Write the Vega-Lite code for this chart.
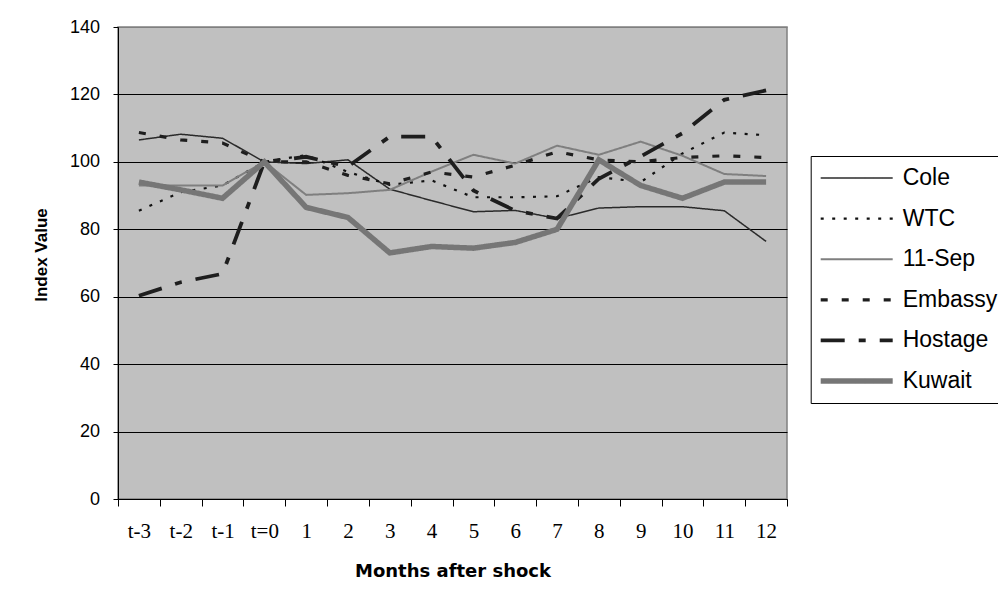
{
  "$schema": "https://vega.github.io/schema/vega-lite/v6.json",
  "width": 669,
  "height": 472,
  "autosize": {"type": "none"},
  "padding": {"left": 118, "top": 27, "right": 211, "bottom": 109},
  "background": "white",
  "config": {
    "view": {"fill": "#c0c0c0", "stroke": "#808080", "strokeWidth": 1.5},
    "legend": {
      "title": null,
      "orient": "none",
      "strokeColor": "black",
      "strokeWidth": 1,
      "fillColor": "white",
      "padding": 7,
      "symbolType": "stroke",
      "symbolSize": 5184,
      "clipHeight": 30,
      "rowPadding": 10.6,
      "labelFont": "Liberation Sans",
      "labelFontSize": 23,
      "labelColor": "black",
      "labelOffset": 7,
      "labelLimit": 300
    }
  },
  "data": {
    "values": [
      {"series": "Cole", "month": "t-3", "value": 106.5},
      {"series": "Cole", "month": "t-2", "value": 108.2},
      {"series": "Cole", "month": "t-1", "value": 107.0},
      {"series": "Cole", "month": "t=0", "value": 100},
      {"series": "Cole", "month": "1", "value": 99.5},
      {"series": "Cole", "month": "2", "value": 100.6},
      {"series": "Cole", "month": "3", "value": 91.9},
      {"series": "Cole", "month": "4", "value": 88.5},
      {"series": "Cole", "month": "5", "value": 85.2},
      {"series": "Cole", "month": "6", "value": 85.6},
      {"series": "Cole", "month": "7", "value": 83.2},
      {"series": "Cole", "month": "8", "value": 86.3},
      {"series": "Cole", "month": "9", "value": 86.7},
      {"series": "Cole", "month": "10", "value": 86.7},
      {"series": "Cole", "month": "11", "value": 85.5},
      {"series": "Cole", "month": "12", "value": 76.4},

      {"series": "WTC", "month": "t-3", "value": 85.5},
      {"series": "WTC", "month": "t-2", "value": 91},
      {"series": "WTC", "month": "t-1", "value": 93},
      {"series": "WTC", "month": "t=0", "value": 100},
      {"series": "WTC", "month": "1", "value": 102},
      {"series": "WTC", "month": "2", "value": 97},
      {"series": "WTC", "month": "3", "value": 93.2},
      {"series": "WTC", "month": "4", "value": 94.5},
      {"series": "WTC", "month": "5", "value": 89.5},
      {"series": "WTC", "month": "6", "value": 89.5},
      {"series": "WTC", "month": "7", "value": 89.8},
      {"series": "WTC", "month": "8", "value": 95.5},
      {"series": "WTC", "month": "9", "value": 94},
      {"series": "WTC", "month": "10", "value": 102.5},
      {"series": "WTC", "month": "11", "value": 108.7},
      {"series": "WTC", "month": "12", "value": 107.9},

      {"series": "11-Sep", "month": "t-3", "value": 93},
      {"series": "11-Sep", "month": "t-2", "value": 93},
      {"series": "11-Sep", "month": "t-1", "value": 93},
      {"series": "11-Sep", "month": "t=0", "value": 100},
      {"series": "11-Sep", "month": "1", "value": 90.2},
      {"series": "11-Sep", "month": "2", "value": 90.7},
      {"series": "11-Sep", "month": "3", "value": 91.7},
      {"series": "11-Sep", "month": "4", "value": 97.1},
      {"series": "11-Sep", "month": "5", "value": 102.1},
      {"series": "11-Sep", "month": "6", "value": 99.5},
      {"series": "11-Sep", "month": "7", "value": 104.8},
      {"series": "11-Sep", "month": "8", "value": 102.1},
      {"series": "11-Sep", "month": "9", "value": 106},
      {"series": "11-Sep", "month": "10", "value": 101.8},
      {"series": "11-Sep", "month": "11", "value": 96.4},
      {"series": "11-Sep", "month": "12", "value": 95.8},

      {"series": "Embassy", "month": "t-3", "value": 108.7},
      {"series": "Embassy", "month": "t-2", "value": 106.5},
      {"series": "Embassy", "month": "t-1", "value": 105.6},
      {"series": "Embassy", "month": "t=0", "value": 100},
      {"series": "Embassy", "month": "1", "value": 100},
      {"series": "Embassy", "month": "2", "value": 96},
      {"series": "Embassy", "month": "3", "value": 93.5},
      {"series": "Embassy", "month": "4", "value": 97},
      {"series": "Embassy", "month": "5", "value": 95.5},
      {"series": "Embassy", "month": "6", "value": 99},
      {"series": "Embassy", "month": "7", "value": 103},
      {"series": "Embassy", "month": "8", "value": 100.6},
      {"series": "Embassy", "month": "9", "value": 100},
      {"series": "Embassy", "month": "10", "value": 101.3},
      {"series": "Embassy", "month": "11", "value": 101.8},
      {"series": "Embassy", "month": "12", "value": 101.3},

      {"series": "Hostage", "month": "t-3", "value": 60.3},
      {"series": "Hostage", "month": "t-2", "value": 64.3},
      {"series": "Hostage", "month": "t-1", "value": 66.8},
      {"series": "Hostage", "month": "t=0", "value": 100},
      {"series": "Hostage", "month": "1", "value": 101.5},
      {"series": "Hostage", "month": "2", "value": 98.6},
      {"series": "Hostage", "month": "3", "value": 107.5},
      {"series": "Hostage", "month": "4", "value": 107.5},
      {"series": "Hostage", "month": "5", "value": 91.5},
      {"series": "Hostage", "month": "6", "value": 85.5},
      {"series": "Hostage", "month": "7", "value": 83.2},
      {"series": "Hostage", "month": "8", "value": 95},
      {"series": "Hostage", "month": "9", "value": 101.6},
      {"series": "Hostage", "month": "10", "value": 108.5},
      {"series": "Hostage", "month": "11", "value": 118.4},
      {"series": "Hostage", "month": "12", "value": 121.2},

      {"series": "Kuwait", "month": "t-3", "value": 94},
      {"series": "Kuwait", "month": "t-2", "value": 91.7},
      {"series": "Kuwait", "month": "t-1", "value": 89.2},
      {"series": "Kuwait", "month": "t=0", "value": 100},
      {"series": "Kuwait", "month": "1", "value": 86.5},
      {"series": "Kuwait", "month": "2", "value": 83.5},
      {"series": "Kuwait", "month": "3", "value": 73},
      {"series": "Kuwait", "month": "4", "value": 74.9},
      {"series": "Kuwait", "month": "5", "value": 74.4},
      {"series": "Kuwait", "month": "6", "value": 76.1},
      {"series": "Kuwait", "month": "7", "value": 80},
      {"series": "Kuwait", "month": "8", "value": 100.6},
      {"series": "Kuwait", "month": "9", "value": 93},
      {"series": "Kuwait", "month": "10", "value": 89.2},
      {"series": "Kuwait", "month": "11", "value": 94},
      {"series": "Kuwait", "month": "12", "value": 94}
    ]
  },
  "mark": {"type": "line", "strokeCap": "butt", "strokeJoin": "miter"},
  "encoding": {
    "x": {
      "field": "month",
      "type": "ordinal",
      "sort": ["t-3", "t-2", "t-1", "t=0", "1", "2", "3", "4", "5", "6", "7", "8", "9", "10", "11", "12"],
      "scale": {"type": "band", "paddingInner": 0, "paddingOuter": 0},
      "axis": {
        "title": "Months after shock",
        "titleFont": "DejaVu Sans",
        "titleFontSize": 18,
        "titleFontWeight": "bold",
        "titleColor": "black",
        "titleY": 72.5,
        "titleBaseline": "middle",
        "labelFont": "Liberation Serif",
        "labelFontSize": 21,
        "labelColor": "black",
        "labelAngle": 0,
        "labelPadding": 14.5,
        "tickBand": "extent",
        "tickSize": 7,
        "tickColor": "black",
        "domainColor": "black",
        "grid": false
      }
    },
    "y": {
      "field": "value",
      "type": "quantitative",
      "scale": {"domain": [0, 140], "nice": false, "zero": true},
      "axis": {
        "title": "Index Value",
        "titleFont": "Liberation Sans",
        "titleFontSize": 17,
        "titleFontWeight": "bold",
        "titleColor": "black",
        "titleX": -76.3,
        "titleY": 227.5,
        "titleBaseline": "middle",
        "values": [0, 20, 40, 60, 80, 100, 120, 140],
        "labelFont": "Liberation Sans",
        "labelFontSize": 18,
        "labelColor": "black",
        "labelPadding": 13.5,
        "tickSize": 5,
        "tickColor": "black",
        "domainColor": "black",
        "grid": true,
        "gridColor": {"condition": {"test": "datum.value >= 140", "value": "#808080"}, "value": "black"},
        "gridWidth": 1
      }
    },
    "stroke": {
      "field": "series",
      "type": "nominal",
      "scale": {
        "type": "ordinal",
        "domain": ["Cole", "WTC", "11-Sep", "Embassy", "Hostage", "Kuwait"],
        "range": ["#2a2a2a", "#111111", "#7f7f7f", "#1e1e1e", "#1e1e1e", "#767676"]
      },
      "legend": {"legendX": 692.7, "legendY": 129}
    },
    "strokeDash": {
      "field": "series",
      "type": "nominal",
      "scale": {
        "type": "ordinal",
        "domain": ["Cole", "WTC", "11-Sep", "Embassy", "Hostage", "Kuwait"],
        "range": [[1, 0], [3, 8.5], [1, 0], [7, 14], [24, 14, 7, 14], [1, 0]]
      },
      "legend": {"legendX": 692.7, "legendY": 129}
    },
    "strokeWidth": {
      "field": "series",
      "type": "nominal",
      "scale": {
        "type": "ordinal",
        "domain": ["Cole", "WTC", "11-Sep", "Embassy", "Hostage", "Kuwait"],
        "range": [1.5, 2.2, 2, 3.2, 3.8, 5.5]
      },
      "legend": {"legendX": 692.7, "legendY": 129}
    }
  }
}
